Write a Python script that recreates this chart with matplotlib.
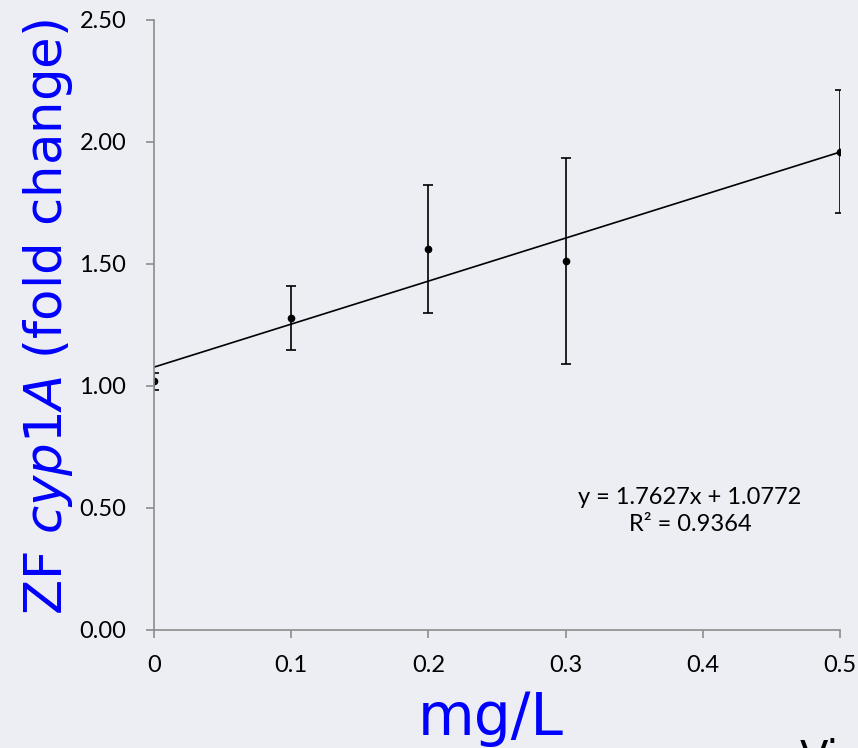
import matplotlib.pyplot as plt
import numpy as np

# concentrations (mg/L) and fold change with error
conc = [0, 0.1, 0.2, 0.3, 0.5]
fold = [1.02, 1.279, 1.561, 1.512, 1.959]
err = [0.035, 0.13, 0.262, 0.422, 0.252]
slope, intercept = 1.7627, 1.0772
yticks = [0.0, 0.5, 1.0, 1.5, 2.0, 2.5]
xticks = [0, 0.1, 0.2, 0.3, 0.4, 0.5]

bg = '#edeef4'
plt.rcParams['font.family'] = ['Lato', 'DejaVu Sans']
plt.rcParams['mathtext.fontset'] = 'custom'
plt.rcParams['mathtext.it'] = 'DejaVu Sans:italic'
plt.rcParams['mathtext.rm'] = 'DejaVu Sans'

fig = plt.figure(figsize=(8.58, 7.48), dpi=100, facecolor=bg)
ax = fig.add_axes([0.1795, 0.1578, 0.7995, 0.8155], facecolor=bg)

# trend line
xl = np.array([conc[0], conc[-1]])
ax.plot(xl, slope * xl + intercept, color='black', lw=1.2)

ax.errorbar(conc, fold, yerr=err, fmt='o', color='black', ms=4.5,
            ecolor='black', elinewidth=1.2, capsize=3.6, capthick=1.2)

ax.set_xlim(0, 0.5)
ax.set_ylim(0, 2.5)
ax.set_yticks(yticks)
ax.set_yticklabels(['%.2f' % v for v in yticks])
ax.set_xticks(xticks)
ax.set_xticklabels(['0', '0.1', '0.2', '0.3', '0.4', '0.5'])

for s in ['top', 'right']:
    ax.spines[s].set_visible(False)
for s in ['left', 'bottom']:
    ax.spines[s].set_color('#8c8c8c')
    ax.spines[s].set_linewidth(1.2)
ax.tick_params(colors='#8c8c8c', labelcolor='black', labelsize=17,
               length=6, width=1.2, direction='out')
ax.tick_params(axis='y', pad=14)
ax.tick_params(axis='x', pad=12)

ax.text(0.3907, 0.488, 'y = 1.7627x + 1.0772\nR\u00b2 = 0.9364', ha='center',
        va='center', fontsize=17, linespacing=1.35)

ax.set_ylabel(r'ZF $\it{cyp1A}$ (fold change)', color='#0000ff', fontsize=37,
              family='DejaVu Sans')
ax.yaxis.set_label_coords(-0.115, 0.513)

fig.text(0.572, 0.0174, 'mg/L', color='#0000ff', fontsize=42,
         family='DejaVu Sans', ha='center', va='baseline')
fig.text(0.932, 0.0134, 'Vi', fontsize=30, family='DejaVu Sans', va='top')

fig.savefig('out.png', dpi=100, facecolor=bg)
